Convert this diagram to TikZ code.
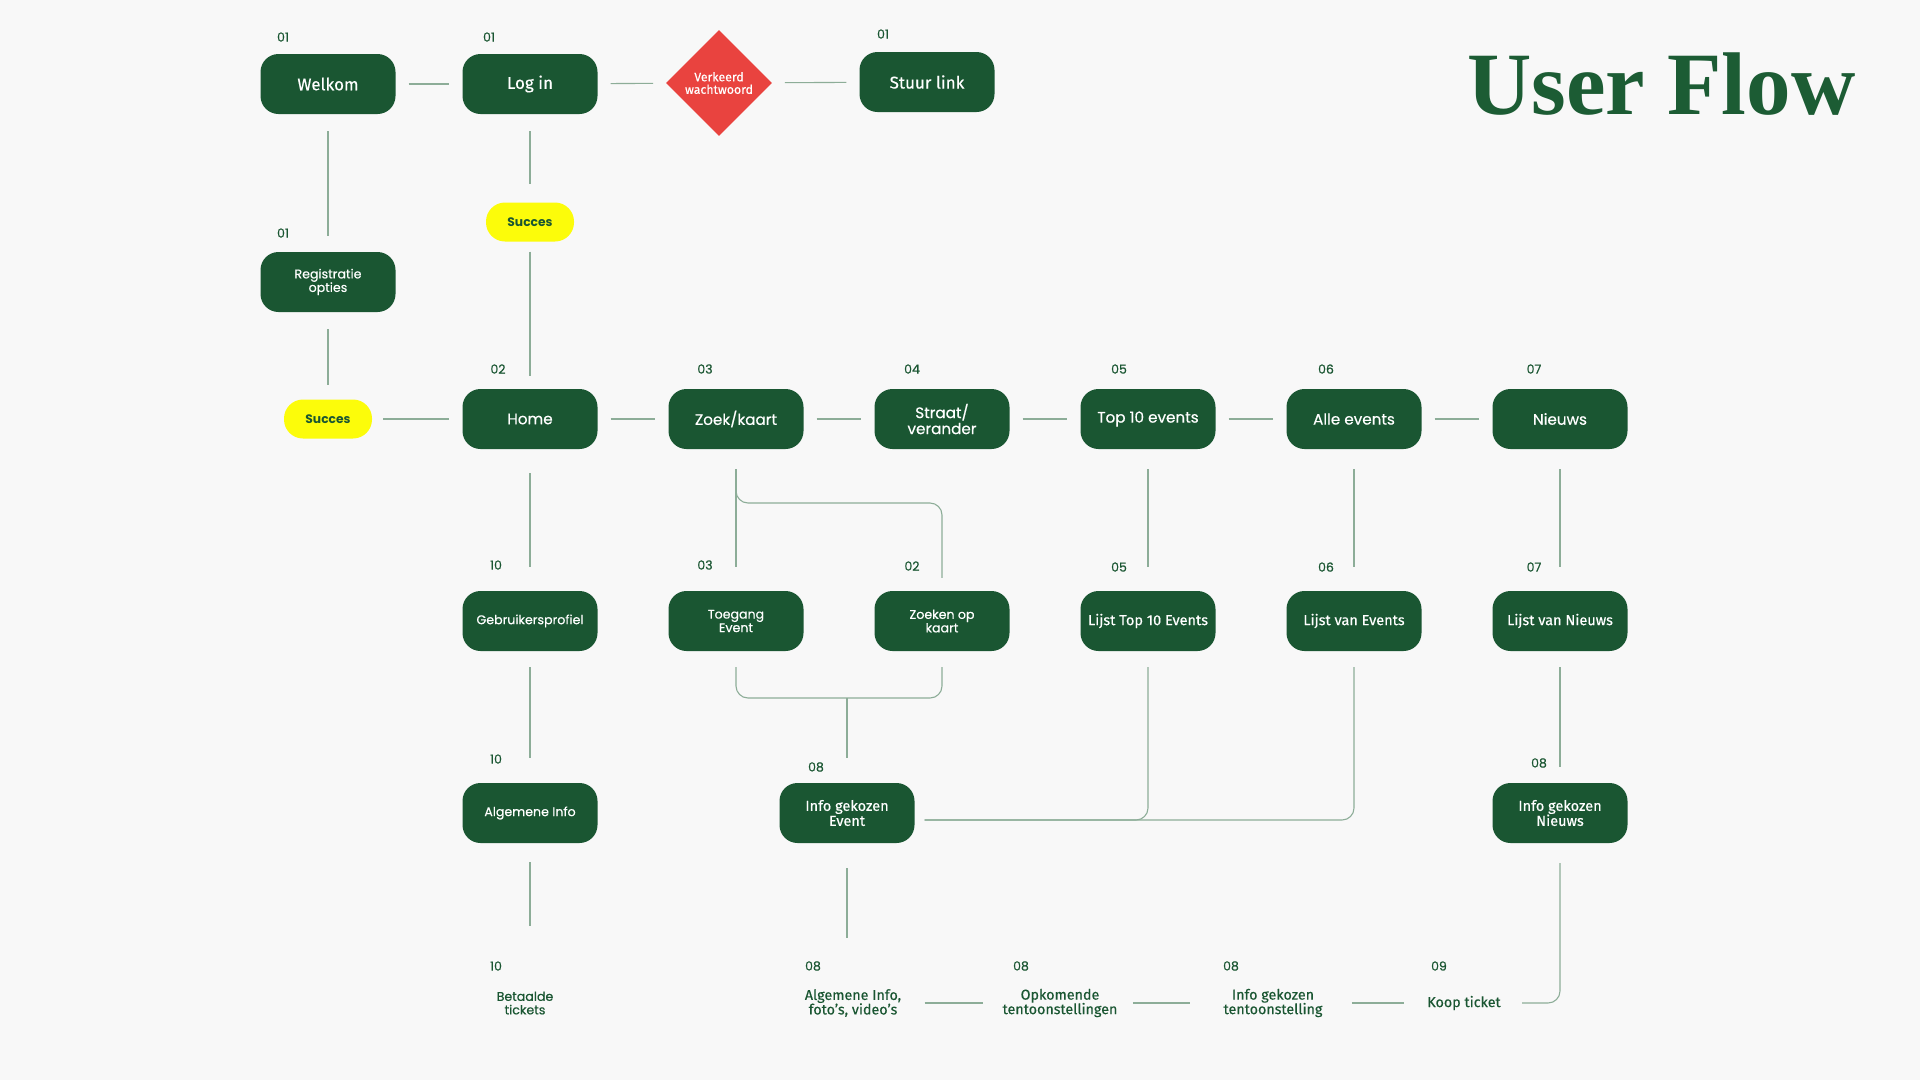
\documentclass[tikz,border=0pt]{standalone}
\usepackage{fontspec}
\usepackage{xcolor}
\usepackage{tikz}
\usetikzlibrary{shapes}
\setmainfont{Liberation Serif}
\newfontfamily\popfont{Poppins}[FakeBold=0.45]
\newfontfamily\poplain{Poppins}
\newfontfamily\firafont{Fira Sans}[FakeBold=0.35]
\definecolor{flowgreen}{HTML}{1A5632}
\definecolor{titlegreen}{HTML}{1C5C34}
\definecolor{wrongred}{HTML}{E9433F}
\definecolor{okyellow}{HTML}{FCFC0A}
\definecolor{linegray}{HTML}{8DAD98}
\definecolor{paper}{HTML}{F8F8F8}
\tikzstyle{block} = [rectangle, fill=flowgreen, text=white, align=center,
    minimum width=135pt, minimum height=60pt, rounded corners=18pt, inner sep=2pt]
\tikzstyle{bigpop} = [font=\popfont\fontsize{15.2}{16}\selectfont]
\tikzstyle{smallpop} = [font=\popfont\fontsize{12.6}{13.5}\selectfont]
\tikzstyle{bigfira} = [font=\firafont\fontsize{17}{18}\selectfont]
\tikzstyle{smallfira} = [font=\firafont\fontsize{14.5}{15}\selectfont]
\tikzstyle{decision} = [diamond, fill=wrongred, text=white, align=center, aspect=1,
    minimum width=106pt, minimum height=106pt, inner sep=0pt,
    font=\firafont\fontsize{12.3}{12.5}\selectfont]
\tikzstyle{pill} = [rectangle, fill=okyellow, text=flowgreen, rounded corners=19pt,
    minimum width=88pt, minimum height=39pt, font=\poplain\bfseries\fontsize{12.3}{13}\selectfont]
\tikzstyle{step text} = [text=flowgreen, align=center, font=\firafont\fontsize{14.3}{14.5}\selectfont]
\tikzstyle{num} = [text=flowgreen, font=\popfont\fontsize{12.5}{13}\selectfont]
\tikzstyle{flowline} = [draw=linegray, line width=1.1pt, shorten <=13pt, shorten >=13pt]

\begin{document}
\begin{tikzpicture}[x=1pt, y=-1pt, node distance=206pt]
    \fill [paper] (0,0) rectangle (1920,1080);
    \useasboundingbox (0,0) rectangle (1920,1080);

    % Place nodes
    \node [titlegreen, anchor=base east, font=\bfseries\fontsize{89}{89}\selectfont] (title) at (1859,114) {User Flow};

    \node [block, bigfira] (welkom) at (328,84) {Welkom};
    \node [block, bigfira, right of=welkom, node distance=202pt] (login) {Log in};
    \node [decision] (wrong) at (719,83) {Verkeerd\\wachtwoord};
    \node [block, bigfira] (stuur) at (927,82) {Stuur link};
    \node [pill] (succesA) at (530,222) {Succes};
    \node [block, smallpop] (registratie) at (328,282) {Registratie\\opties};
    \node [pill] (succesB) at (328,419) {Succes};

    \node [block, bigpop] (home) at (530,419) {Home};
    \node [block, bigpop, right of=home] (zoek) {Zoek/kaart};
    \node [block, bigpop, right of=zoek] (straat) {Straat/\\verander};
    \node [block, bigpop, right of=straat] (top) {Top 10 events};
    \node [block, bigpop, right of=top] (alle) {Alle events};
    \node [block, bigpop, right of=alle] (nieuws) {Nieuws};

    \node [block, smallpop, below of=home, node distance=202pt] (profiel) {Gebruikersprofiel};
    \node [block, smallpop, below of=zoek, node distance=202pt] (toegang) {Toegang\\Event};
    \node [block, smallpop, below of=straat, node distance=202pt] (zoeken) {Zoeken op\\kaart};
    \node [block, smallfira, below of=top, node distance=202pt] (lijsttop) {Lijst Top 10 Events};
    \node [block, smallfira, below of=alle, node distance=202pt] (lijstevents) {Lijst van Events};
    \node [block, smallfira, below of=nieuws, node distance=202pt] (lijstnieuws) {Lijst van Nieuws};

    \node [block, smallpop, below of=profiel, node distance=192pt] (info) {Algemene Info};
    \node [block, smallfira] (infoevent) at (847,813) {Info gekozen\\Event};
    \node [block, smallfira, below of=lijstnieuws, node distance=192pt] (infonieuws) {Info gekozen\\Nieuws};

    \node [step text, font=\popfont\fontsize{12.6}{13.5}\selectfont] (tickets) at (525,1003) {Betaalde\\tickets};
    \node [step text] (alginfo) at (853,1003) {Algemene Info,\\foto’s, video’s};
    \node [step text] (opkomend) at (1060,1003) {Opkomende\\tentoonstellingen};
    \node [step text] (tentoon) at (1273,1003) {Info gekozen\\tentoonstelling};
    \node [step text] (koop) at (1464,1003) {Koop ticket};

    % step numbers
    \node [num] at (283,37) {01};
    \node [num] at (489,37) {01};
    \node [num] at (883,34) {01};
    \node [num] at (283,233) {01};
    \node [num] at (498,369) {02};
    \node [num] at (705,369) {03};
    \node [num] at (912,369) {04};
    \node [num] at (1119,369) {05};
    \node [num] at (1326,369) {06};
    \node [num] at (1534,369) {07};
    \node [num] at (496,565) {10};
    \node [num] at (705,565) {03};
    \node [num] at (912,566) {02};
    \node [num] at (1119,567) {05};
    \node [num] at (1326,567) {06};
    \node [num] at (1534,567) {07};
    \node [num] at (496,759) {10};
    \node [num] at (816,767) {08};
    \node [num] at (1539,763) {08};
    \node [num] at (496,966) {10};
    \node [num] at (813,966) {08};
    \node [num] at (1021,966) {08};
    \node [num] at (1231,966) {08};
    \node [num] at (1439,966) {09};

    % Draw edges
    \path [flowline] (welkom) -- (login);
    \path [flowline] (login) -- (wrong);
    \path [flowline] (wrong) -- (stuur);
    \path [flowline, shorten <=17pt, shorten >=16pt] (welkom) -- (registratie);
    \path [flowline, shorten <=17pt, shorten >=18pt] (login) -- (succesA);
    \path [flowline, shorten <=10pt] (succesA) -- (home);
    \path [flowline, shorten <=17pt, shorten >=14pt] (registratie) -- (succesB);
    \path [flowline, shorten <=11pt] (succesB) -- (home);
    \path [flowline] (home) -- (zoek);
    \path [flowline] (zoek) -- (straat);
    \path [flowline] (straat) -- (top);
    \path [flowline] (top) -- (alle);
    \path [flowline] (alle) -- (nieuws);

    \path [flowline, shorten <=24pt, shorten >=24pt] (home) -- (profiel);
    \path [flowline, shorten <=20pt, shorten >=24pt] (zoek) -- (toegang);
    \path [flowline, shorten <=20pt, shorten >=24pt] (top) -- (lijsttop);
    \path [flowline, shorten <=20pt, shorten >=24pt] (alle) -- (lijstevents);
    \path [flowline, shorten <=20pt, shorten >=24pt] (nieuws) -- (lijstnieuws);
    \coordinate (split) at (736,503);
    \path [flowline, rounded corners=12pt, shorten <=0pt] (split |- toegang.north) ++(0,-24) |- (split) -| (zoeken.north);

    \coordinate (join) at (847,698);
    \path [flowline, rounded corners=12pt, shorten <=16pt, shorten >=16pt] (toegang.south) |- (join) -| (zoeken.south);
    \path [flowline, shorten <=0pt, shorten >=25pt] (join) -- (infoevent);
    \path [flowline, shorten <=16pt, shorten >=25pt] (profiel) -- (info);
    \path [flowline, shorten <=16pt, shorten >=16pt] (lijstnieuws) -- (infonieuws);
    \path [flowline, rounded corners=12pt, shorten <=16pt, shorten >=10pt] (lijsttop.south) |- ([yshift=-7pt]infoevent.east);
    \path [flowline, rounded corners=12pt, shorten <=16pt, shorten >=10pt] (lijstevents.south) |- ([yshift=-7pt]infoevent.east);

    \path [flowline, shorten <=19pt, shorten >=62pt] (info.south) -- (info.south |- tickets.north);
    \path [flowline, shorten <=25pt, shorten >=48pt] (infoevent.south) -- (infoevent.south |- alginfo.north);
    \path [flowline, shorten <=20pt, shorten >=16pt] (alginfo) -- (opkomend);
    \path [flowline, shorten <=12pt, shorten >=30pt] (opkomend) -- (tentoon);
    \path [flowline, shorten <=26pt, shorten >=20pt] (tentoon) -- (koop);
    \path [flowline, rounded corners=12pt, shorten <=20pt, shorten >=18pt] (infonieuws.south) |- (koop.east);
\end{tikzpicture}
\end{document}
